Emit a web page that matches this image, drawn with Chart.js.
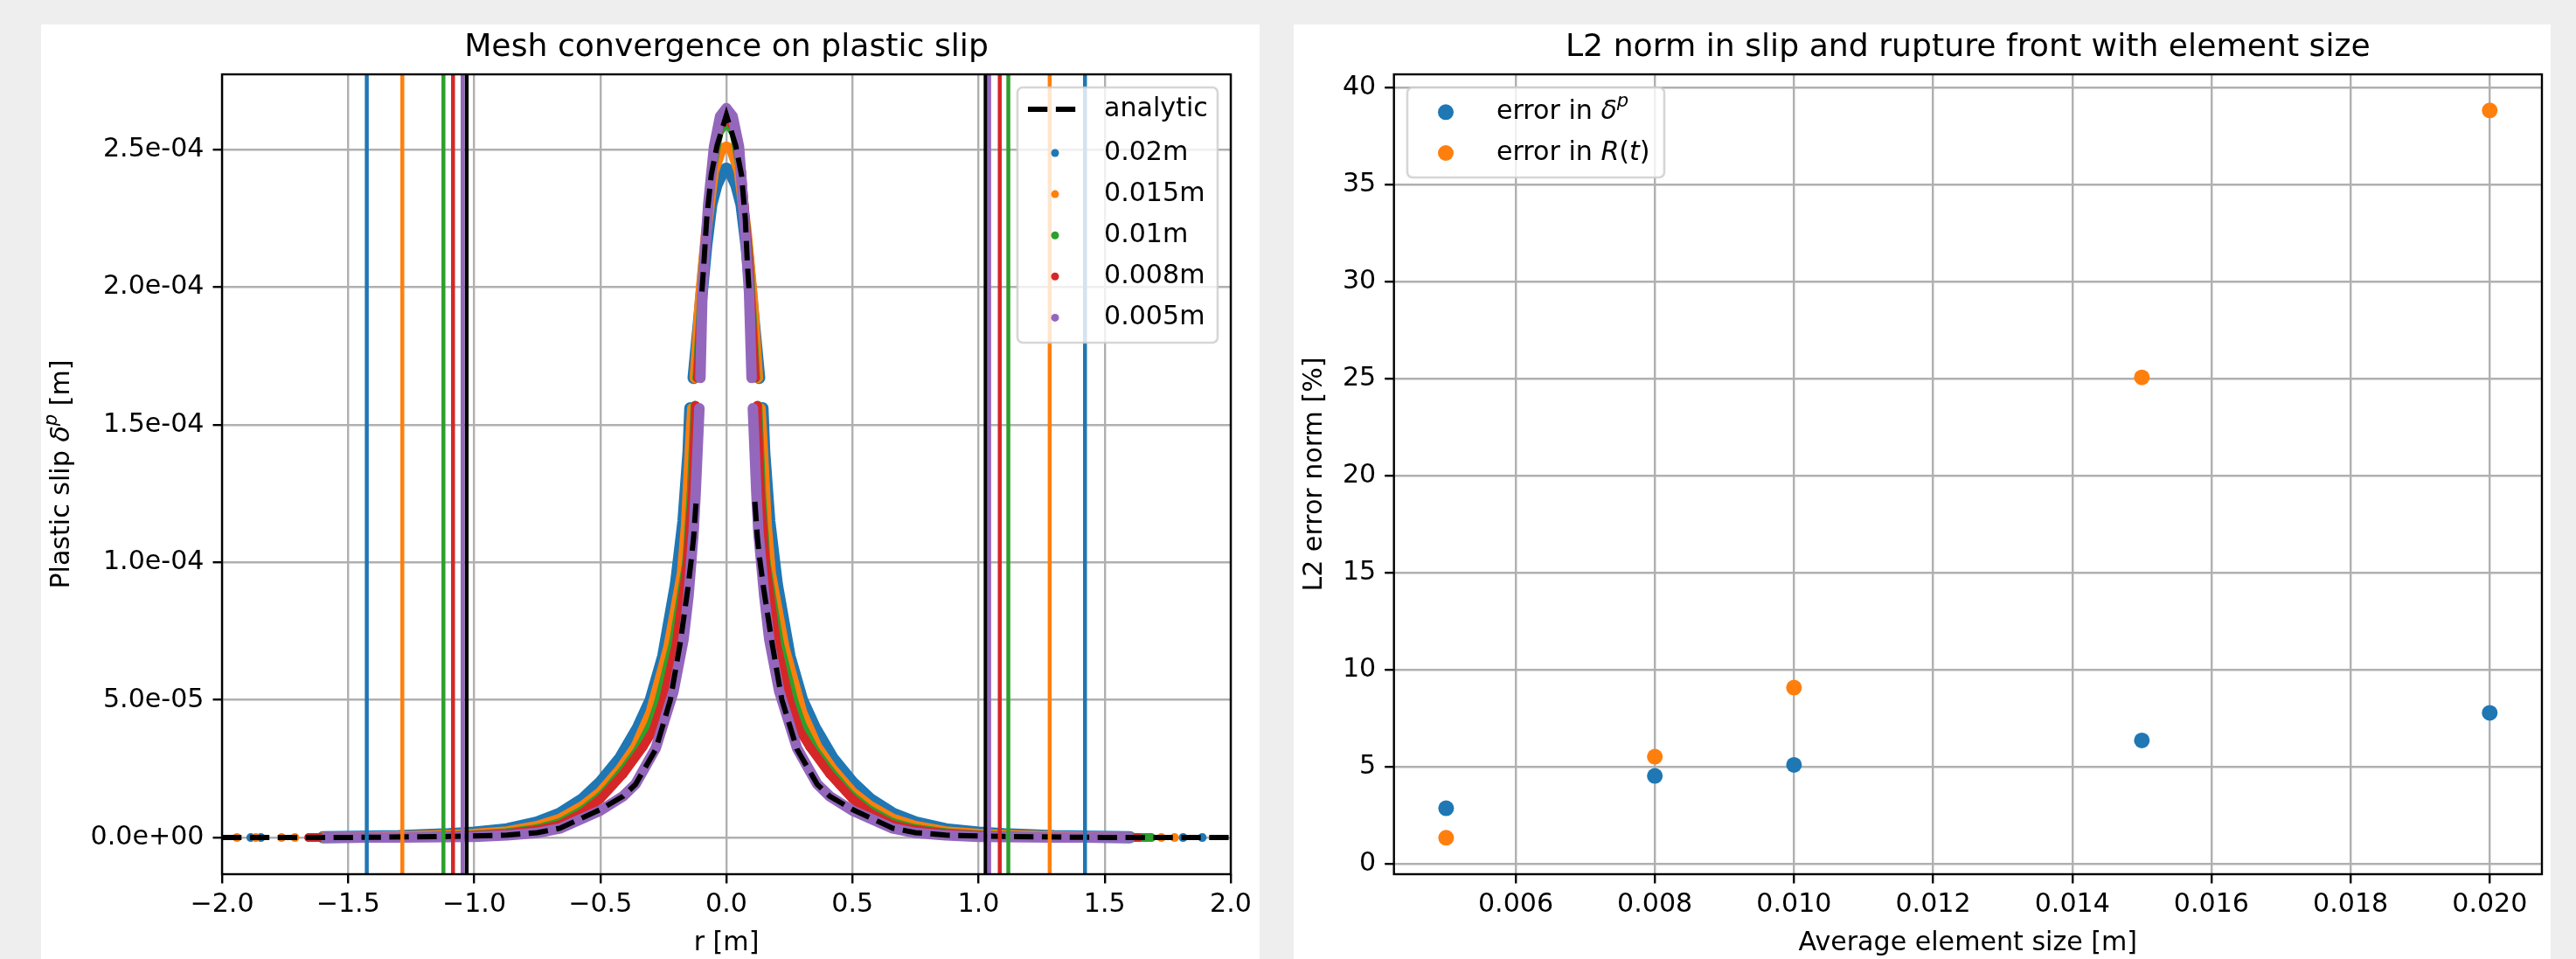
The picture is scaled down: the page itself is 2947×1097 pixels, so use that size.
<!DOCTYPE html>
<html>
<head>
<meta charset="utf-8">
<title>Mesh convergence on plastic slip</title>
<script src="https://cdn.jsdelivr.net/npm/chart.js@4.4.0/dist/chart.umd.min.js"></script>
<style>
  body { margin: 0; background: #eeeeee; width: 2947px; height: 1097px; overflow: hidden; position: relative; }
  .panel { position: absolute; top: 28px; height: 1069px; background: #fff; }
  #panelSlip { left: 47px; width: 1394px; }
  #panelErr { left: 1480px; width: 1438px; }
  canvas { display: block; }
</style>
</head>
<body>
<div class="panel" id="panelSlip"><canvas id="slipChart" width="1394" height="1069"></canvas></div>
<div class="panel" id="panelErr"><canvas id="errChart" width="1438" height="1069"></canvas></div>
<script>
// ---- left plot: plastic slip along r ----
const meshLabels = ['0.02m', '0.015m', '0.01m', '0.008m', '0.005m'];

const rAnalytic = [-2.0, -1.6, -1.4, -1.1, -0.87, -0.75, -0.66, -0.5, -0.41, -0.36, -0.28, -0.222, -0.182, -0.152, -0.138, -0.13, -0.12, -0.11, -0.097, -0.089, -0.078, -0.06, -0.037,
    0, 0.037, 0.06, 0.075, 0.083, 0.09, 0.10, 0.113, 0.123, 0.131, 0.147, 0.18, 0.22, 0.28, 0.36, 0.41, 0.5, 0.66, 0.75, 0.87, 1.1, 1.4, 1.6, 2.0];
const slipAnalytic = [0, 0.003e-5, 0.01e-5, 0.04e-5, 0.09e-5, 0.18e-5, 0.34e-5, 1.02e-5, 1.5e-5, 1.94e-5, 3.21e-5, 5.01e-5, 7.13e-5, 9.1e-5, 10.2e-5, 10.9e-5, 12.2e-5, null, 19.84e-5, 20.9e-5, 22.49e-5, 24.08e-5, 25.14e-5,
    26.25e-5, 25.14e-5, 24.08e-5, 22.49e-5, 20.9e-5, 19.84e-5, null, 12.2e-5, 10.9e-5, 10.2e-5, 9.1e-5, 7.13e-5, 5.01e-5, 3.21e-5, 1.94e-5, 1.5e-5, 1.02e-5, 0.34e-5, 0.18e-5, 0.09e-5, 0.04e-5, 0.01e-5, 0.003e-5, 0];

// 0.02m
const r002 = [-1.6, -1.3, -1.1, -1.0, -0.87, -0.75, -0.66, -0.57, -0.5, -0.42, -0.35, -0.3, -0.25, -0.2, -0.17, -0.15, -0.143, -0.136, -0.13, -0.11, -0.08, -0.06, -0.04, -0.015,
    0, 0.015, 0.04, 0.06, 0.08, 0.11, 0.13, 0.136, 0.143, 0.15, 0.17, 0.2, 0.25, 0.3, 0.35, 0.42, 0.5, 0.57, 0.66, 0.75, 0.87, 1.0, 1.1, 1.3, 1.6];
const slip002 = [0.01e-5, 0.05e-5, 0.12e-5, 0.18e-5, 0.3e-5, 0.55e-5, 0.87e-5, 1.4e-5, 2.0e-5, 2.9e-5, 4.0e-5, 5.0e-5, 6.6e-5, 9.2e-5, 11.5e-5, 14.0e-5, 15.6e-5, null, 16.7e-5, 18.6e-5, 21.5e-5, 23.0e-5, 23.7e-5, 24.2e-5,
    24.3e-5, 24.2e-5, 23.7e-5, 23.0e-5, 21.5e-5, 18.6e-5, 16.7e-5, null, 15.6e-5, 14.0e-5, 11.5e-5, 9.2e-5, 6.6e-5, 5.0e-5, 4.0e-5, 2.9e-5, 2.0e-5, 1.4e-5, 0.87e-5, 0.55e-5, 0.3e-5, 0.18e-5, 0.12e-5, 0.05e-5, 0.01e-5];
const tailR002 = [-1.886, -1.846, 1.811, 1.887];
const tailSlip002 = [0, 0, 0, 0];

// 0.015m
const r0015 = [-1.6, -1.3, -1.1, -1.0, -0.87, -0.75, -0.66, -0.57, -0.5, -0.42, -0.36, -0.3, -0.23, -0.176, -0.16, -0.145, -0.135, -0.13, -0.125, -0.105, -0.08, -0.05, -0.02,
    0, 0.02, 0.05, 0.08, 0.105, 0.125, 0.13, 0.135, 0.145, 0.16, 0.176, 0.23, 0.3, 0.36, 0.42, 0.5, 0.57, 0.66, 0.75, 0.87, 1.0, 1.1, 1.3, 1.6];
const slip0015 = [0.008e-5, 0.04e-5, 0.09e-5, 0.13e-5, 0.22e-5, 0.42e-5, 0.68e-5, 1.15e-5, 1.65e-5, 2.5e-5, 3.3e-5, 4.55e-5, 6.9e-5, 9.6e-5, 11.3e-5, 14.0e-5, 15.6e-5, null, 16.7e-5, 19.5e-5, 22.0e-5, 24.2e-5, 25.0e-5,
    25.1e-5, 25.0e-5, 24.2e-5, 22.0e-5, 19.5e-5, 16.7e-5, null, 15.6e-5, 14.0e-5, 11.3e-5, 9.6e-5, 6.9e-5, 4.55e-5, 3.3e-5, 2.5e-5, 1.65e-5, 1.15e-5, 0.68e-5, 0.42e-5, 0.22e-5, 0.13e-5, 0.09e-5, 0.04e-5, 0.008e-5];
const tailR0015 = [-1.941, -1.866, -1.764, -1.711, 1.725, 1.777];
const tailSlip0015 = [0, 0, 0, 0, 0, 0];

// 0.01m
const r001 = [-1.63, -1.5, -1.2, -1.0, -0.87, -0.75, -0.66, -0.57, -0.5, -0.476, -0.41, -0.35, -0.3, -0.27, -0.21, -0.158, -0.14, -0.125, -0.12, -0.117, -0.09, -0.06, -0.03,
    0, 0.03, 0.06, 0.09, 0.117, 0.12, 0.125, 0.14, 0.158, 0.21, 0.27, 0.3, 0.35, 0.41, 0.476, 0.5, 0.57, 0.66, 0.75, 0.87, 1.0, 1.2, 1.5, 1.68];
const slip001 = [0, 0.01e-5, 0.04e-5, 0.1e-5, 0.18e-5, 0.33e-5, 0.55e-5, 1.0e-5, 1.5e-5, 1.73e-5, 2.45e-5, 3.2e-5, 4.1e-5, 4.9e-5, 7.1e-5, 10.0e-5, 12.5e-5, 15.7e-5, null, 16.7e-5, 21.0e-5, 24.0e-5, 25.6e-5,
    26.0e-5, 25.6e-5, 24.0e-5, 21.0e-5, 16.7e-5, null, 15.7e-5, 12.5e-5, 10.0e-5, 7.1e-5, 4.9e-5, 4.1e-5, 3.2e-5, 2.45e-5, 1.73e-5, 1.5e-5, 1.0e-5, 0.55e-5, 0.33e-5, 0.18e-5, 0.1e-5, 0.04e-5, 0.01e-5, 0];
const tailR001 = [1.66, 1.685];
const tailSlip001 = [0, 0];

// 0.008m
const r0008 = [-1.656, -1.5, -1.2, -1.0, -0.87, -0.75, -0.66, -0.57, -0.5, -0.45, -0.41, -0.33, -0.29, -0.25, -0.2, -0.155, -0.135, -0.122, -0.118, -0.114, -0.088, -0.06, -0.03,
    0, 0.03, 0.06, 0.088, 0.114, 0.118, 0.122, 0.135, 0.155, 0.2, 0.25, 0.29, 0.33, 0.41, 0.45, 0.5, 0.57, 0.66, 0.75, 0.87, 1.0, 1.2, 1.5, 1.633];
const slip0008 = [0, 0.01e-5, 0.03e-5, 0.08e-5, 0.15e-5, 0.28e-5, 0.47e-5, 0.9e-5, 1.4e-5, 1.9e-5, 2.3e-5, 3.3e-5, 3.9e-5, 5.0e-5, 7.0e-5, 10.0e-5, 12.5e-5, 15.7e-5, null, 16.7e-5, 21.0e-5, 24.2e-5, 25.8e-5,
    26.2e-5, 25.8e-5, 24.2e-5, 21.0e-5, 16.7e-5, null, 15.7e-5, 12.5e-5, 10.0e-5, 7.0e-5, 5.0e-5, 3.9e-5, 3.3e-5, 2.3e-5, 1.9e-5, 1.4e-5, 0.9e-5, 0.47e-5, 0.28e-5, 0.15e-5, 0.08e-5, 0.03e-5, 0.01e-5, 0];

// 0.005m
const r0005 = [-1.59, -1.3, -1.0, -0.87, -0.75, -0.66, -0.5, -0.41, -0.36, -0.28, -0.21, -0.17, -0.15, -0.13, -0.122, -0.107, -0.105, -0.103, -0.095, -0.072, -0.049, -0.025,
    0, 0.025, 0.05, 0.067, 0.09, 0.1, 0.103, 0.105, 0.119, 0.127, 0.15, 0.17, 0.21, 0.28, 0.36, 0.41, 0.5, 0.66, 0.75, 0.87, 1.0, 1.3, 1.6];
const slip0005 = [0, 0.005e-5, 0.03e-5, 0.08e-5, 0.17e-5, 0.33e-5, 0.98e-5, 1.5e-5, 1.95e-5, 3.25e-5, 5.3e-5, 7.2e-5, 8.8e-5, 11.1e-5, 12.5e-5, 15.6e-5, null, 16.7e-5, 19.8e-5, 23.0e-5, 25.1e-5, 26.2e-5,
    26.5e-5, 26.2e-5, 25.1e-5, 23.0e-5, 19.8e-5, 16.7e-5, null, 15.6e-5, 12.5e-5, 11.1e-5, 8.8e-5, 7.2e-5, 5.3e-5, 3.25e-5, 1.95e-5, 1.5e-5, 0.98e-5, 0.33e-5, 0.17e-5, 0.08e-5, 0.03e-5, 0.005e-5, 0];

// rupture front position (left, right) for each mesh and the analytic one
const front002 = [-1.426, 1.422];
const front0015 = [-1.285, 1.282];
const front001 = [-1.122, 1.118];
const front0008 = [-1.084, 1.084];
const front0005 = [-1.046, 1.042];
const frontAnalytic = [-1.03, 1.028];

const xTicksSlip = [-2.0, -1.5, -1.0, -0.5, 0.0, 0.5, 1.0, 1.5, 2.0];
const yTicksSlip = [0, 5e-5, 1e-4, 1.5e-4, 2e-4, 2.5e-4];
const slipMin = -1.33e-5, slipMax = 2.773e-4;

// ---- right plot: L2 error vs element size ----
const elementSize = [0.005, 0.008, 0.010, 0.015, 0.020];
const errSlip = [2.85, 4.52, 5.09, 6.35, 7.77];
const errFront = [1.33, 5.51, 9.07, 25.07, 38.84];
const xTicksErr = [0.006, 0.008, 0.010, 0.012, 0.014, 0.016, 0.018, 0.020];
const yTicksErr = [0, 5, 10, 15, 20, 25, 30, 35, 40];

// matplotlib look
const C = ['#1f77b4', '#ff7f0e', '#2ca02c', '#d62728', '#9467bd'];
const FS = 30.1, TITLE_FS = 36.2;
Chart.defaults.font.family = "'DejaVu Sans', sans-serif";
Chart.defaults.color = '#000';

function pts(xs, ys) {
    return xs.map((x, i) => ({ x: x, y: ys[i] }));
}

function sciTick(v) {
    const [m, e] = v.toExponential(1).split('e');
    const n = Math.abs(+e);
    return m + 'e' + (+e < 0 ? '-' : '+') + String(n).padStart(2, '0');
}

// text with italic / superscript bits (mathtext-ish)
function drawMath(ctx, parts, x, y, size, center) {
    const fontOf = st => (st === 'n' ? '' : 'italic ') + (st === 's' ? size * 0.7 : size) + 'px "DejaVu Sans"';
    let w = 0;
    parts.forEach(([t, st]) => { ctx.font = fontOf(st); w += ctx.measureText(t).width; });
    let cx = center ? x - w / 2 : x;
    ctx.textAlign = 'left';
    ctx.textBaseline = 'middle';
    ctx.fillStyle = '#000';
    parts.forEach(([t, st]) => {
        ctx.font = fontOf(st);
        ctx.fillText(t, cx, st === 's' ? y - size * 0.4 : y);
        cx += ctx.measureText(t).width;
    });
}

const spines = {
    id: 'spines',
    afterDatasetsDraw(chart) {
        const { ctx, chartArea: a } = chart;
        ctx.save();
        ctx.strokeStyle = '#000';
        ctx.lineWidth = 2.4;
        ctx.strokeRect(a.left, a.top, a.right - a.left, a.bottom - a.top);
        ctx.restore();
    }
};

function mplLegend(box, rows) {
    return {
        id: 'mplLegend',
        afterDraw(chart) {
            const ctx = chart.ctx;
            ctx.save();
            ctx.beginPath();
            ctx.roundRect(box.x, box.y, box.w, box.h, 6);
            ctx.fillStyle = 'rgba(255,255,255,0.8)';
            ctx.fill();
            ctx.strokeStyle = 'rgba(204,204,204,0.8)';
            ctx.lineWidth = 2.6;
            ctx.stroke();
            rows.forEach(row => {
                if (row.dash) {
                    ctx.beginPath();
                    ctx.setLineDash([22.3, 9.6]);
                    ctx.strokeStyle = '#000';
                    ctx.lineWidth = 6;
                    ctx.moveTo(box.hx - 31, row.y);
                    ctx.lineTo(box.hx + 31, row.y);
                    ctx.stroke();
                    ctx.setLineDash([]);
                } else {
                    ctx.beginPath();
                    ctx.arc(box.hx, row.y, box.r, 0, Math.PI * 2);
                    ctx.fillStyle = row.color;
                    ctx.fill();
                }
                drawMath(ctx, row.parts, box.tx, row.y, FS, false);
            });
            ctx.restore();
        }
    };
}

const gridOpts = { color: '#b0b0b0', lineWidth: 2.4, tickLength: 10.5, tickColor: '#000', tickWidth: 2.4 };

// ---- left chart ----
function bandSet(xs, ys, color, width, order) {
    return {
        data: pts(xs, ys), showLine: true, borderColor: color, backgroundColor: color,
        borderWidth: width, borderJoinStyle: 'round', borderCapStyle: 'round', tension: 0,
        pointRadius: 5, pointBorderWidth: 0, pointHoverRadius: 0, spanGaps: false, order: order
    };
}
function tailSet(xs, ys, color, order) {
    return { data: pts(xs, ys), showLine: false, backgroundColor: color, pointRadius: 5, pointBorderWidth: 0, order: order };
}
function frontSets(front, color) {
    return front.map(r => ({
        data: pts([r, r], [slipMin, slipMax]), showLine: true, borderColor: color,
        borderWidth: 4.5, pointRadius: 0, order: 0
    }));
}

const slipDatasets = [
    ...frontSets(front002, C[0]), ...frontSets(front0015, C[1]), ...frontSets(front001, C[2]),
    ...frontSets(front0008, C[3]), ...frontSets(front0005, C[4]), ...frontSets(frontAnalytic, '#000'),
    {
        data: pts(rAnalytic, slipAnalytic), showLine: true, borderColor: '#000', borderWidth: 6,
        borderDash: [22.3, 9.6], pointRadius: 0, tension: 0, spanGaps: false, order: 1
    },
    bandSet(r0005, slip0005, C[4], 12, 2),
    bandSet(r0008, slip0008, C[3], 10, 3),
    bandSet(r001, slip001, C[2], 10, 4),
    tailSet(tailR001, tailSlip001, C[2], 4),
    bandSet(r0015, slip0015, C[1], 12, 5),
    tailSet(tailR0015, tailSlip0015, C[1], 5),
    bandSet(r002, slip002, C[0], 14, 6),
    tailSet(tailR002, tailSlip002, C[0], 6)
];

const slipLegendRows = [{ dash: true, y: 97, parts: [['analytic', 'n']] }].concat(
    meshLabels.map((lab, i) => ({ color: C[i], y: 147 + i * 47.1, parts: [[lab, 'n']] }))
);

const slipYLabel = {
    id: 'slipYLabel',
    afterDraw(chart) {
        const ctx = chart.ctx;
        const a = chart.chartArea;
        ctx.save();
        ctx.translate(24.4, (a.top + a.bottom) / 2);
        ctx.rotate(-Math.PI / 2);
        drawMath(ctx, [['Plastic slip ', 'n'], ['δ', 'i'], ['p', 's'], [' [m]', 'n']], 0, 0, FS, true);
        ctx.restore();
    }
};

new Chart(document.getElementById('slipChart'), {
    type: 'scatter',
    data: { datasets: slipDatasets },
    options: {
        responsive: false,
        animation: false,
        events: [],
        layout: { padding: { left: 0, right: 33, top: 0, bottom: 0 } },
        plugins: {
            legend: { display: false },
            tooltip: { enabled: false },
            title: {
                display: true, text: 'Mesh convergence on plastic slip', fullSize: false,
                font: { size: TITLE_FS, weight: 'normal' }, padding: { top: 5, bottom: 8.6 }
            }
        },
        scales: {
            x: {
                type: 'linear', min: -2, max: 2,
                afterBuildTicks: s => { s.ticks = xTicksSlip.map(v => ({ value: v })); },
                afterFit: s => { s.height = 97; },
                grid: gridOpts, border: { display: false },
                ticks: { font: { size: FS }, padding: 7, autoSkip: false, maxRotation: 0,
                    callback: v => v.toFixed(1).replace('-', '\u2212') },
                title: { display: true, text: 'r [m]', font: { size: FS }, padding: 0 }
            },
            y: {
                type: 'linear', min: slipMin, max: slipMax,
                afterBuildTicks: s => { s.ticks = yTicksSlip.map(v => ({ value: v })); },
                afterFit: s => { s.width = 207; },
                grid: gridOpts, border: { display: false },
                ticks: { font: { size: FS }, padding: 10, callback: v => sciTick(v) }
            }
        }
    },
    plugins: [spines, slipYLabel, mplLegend({ x: 1117, y: 72, w: 229, h: 292, hx: 1160, tx: 1216, r: 4.5 }, slipLegendRows)]
});

// ---- right chart ----
const errLegendRows = [
    { color: C[0], y: 100.3, parts: [['error in ', 'n'], ['δ', 'i'], ['p', 's']] },
    { color: C[1], y: 147, parts: [['error in ', 'n'], ['R', 'i'], ['(', 'n'], ['t', 'i'], [')', 'n']] }
];

new Chart(document.getElementById('errChart'), {
    type: 'scatter',
    data: {
        datasets: [
            { label: 'error in δp', data: pts(elementSize, errSlip), backgroundColor: C[0], pointRadius: 9, pointBorderWidth: 0, order: 1 },
            { label: 'error in R(t)', data: pts(elementSize, errFront), backgroundColor: C[1], pointRadius: 9, pointBorderWidth: 0, order: 0 }
        ]
    },
    options: {
        responsive: false,
        animation: false,
        events: [],
        layout: { padding: { left: 0, right: 10, top: 0, bottom: 0 } },
        plugins: {
            legend: { display: false },
            tooltip: { enabled: false },
            title: {
                display: true, text: 'L2 norm in slip and rupture front with element size', fullSize: false,
                font: { size: TITLE_FS, weight: 'normal' }, padding: { top: 5, bottom: 8.6 }
            }
        },
        scales: {
            x: {
                type: 'linear', min: 0.00425, max: 0.02075,
                afterBuildTicks: s => { s.ticks = xTicksErr.map(v => ({ value: v })); },
                afterFit: s => { s.height = 97; },
                grid: gridOpts, border: { display: false },
                ticks: { font: { size: FS }, padding: 7, autoSkip: false, maxRotation: 0, callback: v => v.toFixed(3) },
                title: { display: true, text: 'Average element size [m]', font: { size: FS }, padding: 0 }
            },
            y: {
                type: 'linear', min: -0.55, max: 40.7,
                afterBuildTicks: s => { s.ticks = yTicksErr.map(v => ({ value: v })); },
                afterFit: s => { s.width = 114.7; },
                grid: gridOpts, border: { display: false },
                ticks: { font: { size: FS }, padding: 10, callback: v => String(v) },
                title: { display: true, text: 'L2 error norm [%]', font: { size: FS }, padding: { top: 6, bottom: 0 } }
            }
        }
    },
    plugins: [spines, mplLegend({ x: 130, y: 72, w: 294, h: 103, hx: 174, tx: 232, r: 9 }, errLegendRows)]
});
</script>
</body>
</html>
